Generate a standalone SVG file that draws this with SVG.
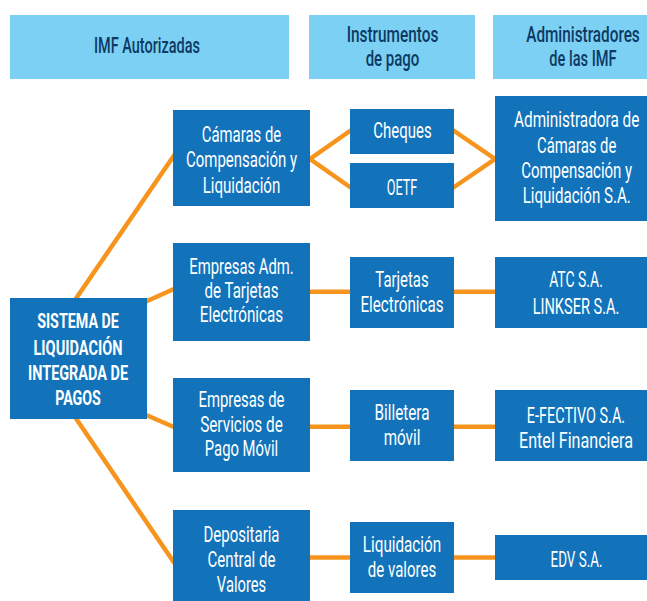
<svg xmlns="http://www.w3.org/2000/svg" width="647" height="601" viewBox="0 0 647 601">
<style>
.hdr{fill:#7BD0F4}
.node{fill:#1273BA}
.ht{font-family:Roboto,"Liberation Sans",sans-serif;font-size:22px;font-weight:500;fill:#0D3A62;text-anchor:middle}
.nt{font-family:Roboto,"Liberation Sans",sans-serif;font-size:22px;fill:#FFFFFF;text-anchor:middle}
.bt{font-family:Roboto,"Liberation Sans",sans-serif;font-size:21px;font-weight:bold;fill:#FFFFFF;text-anchor:middle}
.con{fill:none;stroke:#F7941D;stroke-width:4.5;stroke-linejoin:miter}
</style>
<g id="connectors">
<line class="con" x1="75" y1="300" x2="175" y2="154"/>
<line class="con" x1="145" y1="302" x2="175" y2="288.5"/>
<line class="con" x1="145" y1="414.5" x2="175" y2="427.5"/>
<line class="con" x1="75" y1="417" x2="175" y2="564"/>
<polyline class="con" points="352,129.5 310,159 352,188.5"/>
<polyline class="con" points="452,129.5 495,159 452,188.5"/>
<line class="con" x1="308" y1="291.7" x2="352" y2="291.7"/>
<line class="con" x1="452" y1="291.7" x2="497" y2="291.7"/>
<line class="con" x1="308" y1="426.7" x2="352" y2="426.7"/>
<line class="con" x1="452" y1="426.7" x2="497" y2="426.7"/>
<line class="con" x1="308" y1="557.5" x2="352" y2="557.5"/>
<line class="con" x1="452" y1="557.5" x2="497" y2="557.5"/>
</g>
<g id="hdr-imf">
<rect class="hdr" x="10" y="15" width="279" height="64"/>
<text class="ht" x="147" y="53.3" textLength="106" lengthAdjust="spacingAndGlyphs">IMF Autorizadas</text>
</g>
<g id="hdr-instrumentos">
<rect class="hdr" x="309" y="15" width="166" height="64"/>
<text class="ht" x="392.5" y="42.3" textLength="91.6" lengthAdjust="spacingAndGlyphs">Instrumentos</text>
<text class="ht" x="392.5" y="65.7" textLength="53.7" lengthAdjust="spacingAndGlyphs">de pago</text>
</g>
<g id="hdr-administradores">
<rect class="hdr" x="493" y="15" width="154" height="64"/>
<text class="ht" x="583" y="42.3" textLength="113.5" lengthAdjust="spacingAndGlyphs">Administradores</text>
<text class="ht" x="583" y="65.7" textLength="67.3" lengthAdjust="spacingAndGlyphs">de las IMF</text>
</g>
<g id="sistema">
<rect class="node" x="10" y="298" width="137" height="121"/>
<text class="bt" x="78" y="328.3" textLength="81.7" lengthAdjust="spacingAndGlyphs">SISTEMA DE</text>
<text class="bt" x="78" y="355" textLength="89" lengthAdjust="spacingAndGlyphs">LIQUIDACIÓN</text>
<text class="bt" x="78" y="380" textLength="100" lengthAdjust="spacingAndGlyphs">INTEGRADA DE</text>
<text class="bt" x="78" y="405" textLength="45.7" lengthAdjust="spacingAndGlyphs">PAGOS</text>
</g>
<g id="camaras">
<rect class="node" x="173" y="110" width="137" height="96"/>
<text class="nt" x="241.5" y="141.7" textLength="79.3" lengthAdjust="spacingAndGlyphs">Cámaras de</text>
<text class="nt" x="241.5" y="167.3" textLength="111" lengthAdjust="spacingAndGlyphs">Compensación y</text>
<text class="nt" x="241.5" y="192.7" textLength="77.7" lengthAdjust="spacingAndGlyphs">Liquidación</text>
</g>
<g id="empresas-adm">
<rect class="node" x="173" y="243" width="137" height="98"/>
<text class="nt" x="241.5" y="274.3" textLength="104.3" lengthAdjust="spacingAndGlyphs">Empresas Adm.</text>
<text class="nt" x="241.5" y="298.3" textLength="74" lengthAdjust="spacingAndGlyphs">de Tarjetas</text>
<text class="nt" x="241.5" y="321.7" textLength="83.3" lengthAdjust="spacingAndGlyphs">Electrónicas</text>
</g>
<g id="empresas-servicios">
<rect class="node" x="173" y="378" width="137" height="94"/>
<text class="nt" x="241.5" y="407.3" textLength="86" lengthAdjust="spacingAndGlyphs">Empresas de</text>
<text class="nt" x="241.5" y="431.7" textLength="82.7" lengthAdjust="spacingAndGlyphs">Servicios de</text>
<text class="nt" x="241.5" y="455.7" textLength="73.3" lengthAdjust="spacingAndGlyphs">Pago Móvil</text>
</g>
<g id="depositaria">
<rect class="node" x="173" y="510" width="137" height="91"/>
<text class="nt" x="241.5" y="541.7" textLength="76" lengthAdjust="spacingAndGlyphs">Depositaria</text>
<text class="nt" x="241.5" y="566.7" textLength="68" lengthAdjust="spacingAndGlyphs">Central de</text>
<text class="nt" x="241.5" y="591.7" textLength="49.3" lengthAdjust="spacingAndGlyphs">Valores</text>
</g>
<g id="cheques">
<rect class="node" x="350" y="109" width="104" height="45"/>
<text class="nt" x="402.5" y="137.7" textLength="58.3" lengthAdjust="spacingAndGlyphs">Cheques</text>
</g>
<g id="oetf">
<rect class="node" x="350" y="163" width="104" height="45"/>
<text class="nt" x="402" y="195" textLength="30.7" lengthAdjust="spacingAndGlyphs">OETF</text>
</g>
<g id="tarjetas">
<rect class="node" x="350" y="257" width="104" height="71"/>
<text class="nt" x="402" y="286.7" textLength="53.3" lengthAdjust="spacingAndGlyphs">Tarjetas</text>
<text class="nt" x="402" y="311.7" textLength="83" lengthAdjust="spacingAndGlyphs">Electrónicas</text>
</g>
<g id="billetera">
<rect class="node" x="350" y="390" width="104" height="71"/>
<text class="nt" x="402" y="420" textLength="55" lengthAdjust="spacingAndGlyphs">Billetera</text>
<text class="nt" x="402" y="445" textLength="36.7" lengthAdjust="spacingAndGlyphs">móvil</text>
</g>
<g id="liquidacion-valores">
<rect class="node" x="350" y="522" width="104" height="71"/>
<text class="nt" x="402" y="551.7" textLength="78.3" lengthAdjust="spacingAndGlyphs">Liquidación</text>
<text class="nt" x="402" y="576.7" textLength="68.3" lengthAdjust="spacingAndGlyphs">de valores</text>
</g>
<g id="administradora">
<rect class="node" x="495" y="96" width="152" height="125"/>
<text class="nt" x="576.7" y="127.3" textLength="125.3" lengthAdjust="spacingAndGlyphs">Administradora de</text>
<text class="nt" x="576.7" y="152.7" textLength="79.3" lengthAdjust="spacingAndGlyphs">Cámaras de</text>
<text class="nt" x="576.7" y="178.3" textLength="111" lengthAdjust="spacingAndGlyphs">Compensación y</text>
<text class="nt" x="576.7" y="203.3" textLength="108" lengthAdjust="spacingAndGlyphs">Liquidación S.A.</text>
</g>
<g id="atc-linkser">
<rect class="node" x="495" y="257" width="152" height="71"/>
<text class="nt" x="576" y="287.3" textLength="53.7" lengthAdjust="spacingAndGlyphs">ATC S.A.</text>
<text class="nt" x="576" y="314" textLength="86.7" lengthAdjust="spacingAndGlyphs">LINKSER S.A.</text>
</g>
<g id="efectivo">
<rect class="node" x="495" y="390" width="152" height="71"/>
<text class="nt" x="576" y="423.3" textLength="98.3" lengthAdjust="spacingAndGlyphs">E-FECTIVO S.A.</text>
<text class="nt" x="576" y="448.3" textLength="114" lengthAdjust="spacingAndGlyphs">Entel Financiera</text>
</g>
<g id="edv">
<rect class="node" x="495" y="535" width="152" height="45"/>
<text class="nt" x="576.5" y="566.7" textLength="52" lengthAdjust="spacingAndGlyphs">EDV S.A.</text>
</g>
</svg>
